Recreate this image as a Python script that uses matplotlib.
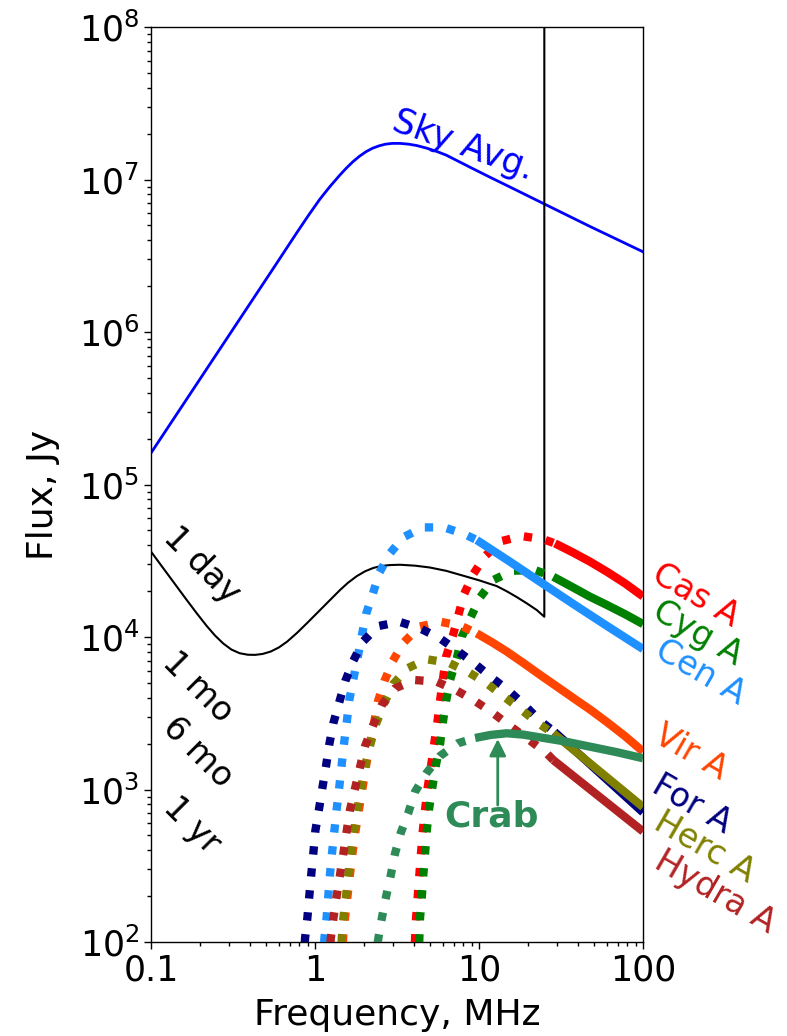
import numpy as np
import matplotlib
matplotlib.use("Agg")
import matplotlib.pyplot as plt

# ---- data (log10 of frequency in MHz, log10 of flux in Jy) ----
sky_logf = [-1.0, -0.254, -0.112, -0.040, 0.030, 0.090, 0.152, 0.19, 0.23, 0.27, 0.31, 0.35,
            0.39, 0.43, 0.47, 0.52, 0.57, 0.62, 0.68, 0.74, 0.80, 0.864, 0.95, 1.067, 1.20,
            1.392, 1.677, 2.0]
sky_logs = [5.207, 6.418, 6.650, 6.765, 6.872, 6.953, 7.030, 7.074, 7.116, 7.152, 7.182, 7.205,
            7.221, 7.232, 7.237, 7.237, 7.232, 7.223, 7.206, 7.185, 7.160, 7.125, 7.078, 7.015,
            6.945, 6.843, 6.692, 6.526]

day_logf = [-1.0, -0.93, -0.86, -0.79, -0.72, -0.66, -0.61, -0.56, -0.51, -0.46, -0.41,
            -0.366, -0.32, -0.27, -0.22, -0.17, -0.11, -0.05, 0.051, 0.152, 0.20, 0.254,
            0.305, 0.355, 0.405, 0.457, 0.518, 0.61, 0.70, 0.80, 0.904, 1.0, 1.108, 1.169,
            1.23, 1.291, 1.352, 1.398, 1.398]
day_logs = [4.560, 4.458, 4.356, 4.254, 4.154, 4.072, 4.010, 3.958, 3.918, 3.894, 3.884,
            3.883, 3.889, 3.905, 3.932, 3.970, 4.027, 4.090, 4.199, 4.308, 4.355, 4.399,
            4.431, 4.453, 4.466, 4.472, 4.474, 4.468, 4.456, 4.434, 4.402, 4.372, 4.334, 4.300,
            4.262, 4.221, 4.177, 4.133, 9.0]

source_names = ["Cas A", "Cyg A", "Cen A", "Vir A", "For A", "Herc A", "Hydra A", "Crab"]

cas_dot_logf = [0.609, 0.610, 0.616, 0.626, 0.636, 0.646, 0.657, 0.671, 0.687, 0.707, 0.726,
                0.746, 0.762, 0.780, 0.799, 0.840, 0.874, 0.909, 0.965, 1.037, 1.132, 1.260,
                1.392, 1.463]
cas_dot_logs = [1.997, 2.024, 2.155, 2.297, 2.439, 2.582, 2.728, 2.870, 3.014, 3.154, 3.296,
                3.441, 3.580, 3.725, 3.871, 4.007, 4.144, 4.282, 4.413, 4.531, 4.628, 4.662,
                4.641, 4.614]
cas_logf = [1.463, 1.570, 1.677, 1.780, 1.890, 2.0]
cas_logs = [4.614, 4.556, 4.494, 4.428, 4.352, 4.266]

cyg_dot_logf = [0.635, 0.636, 0.640, 0.651, 0.660, 0.671, 0.681, 0.695, 0.715, 0.736, 0.762,
                0.779, 0.799, 0.823, 0.864, 0.895, 0.949, 1.006, 1.087, 1.205, 1.341, 1.453]
cyg_dot_logs = [1.997, 2.024, 2.155, 2.297, 2.439, 2.582, 2.728, 2.870, 3.014, 3.154, 3.296,
                3.439, 3.580, 3.718, 3.860, 4.002, 4.129, 4.260, 4.374, 4.435, 4.439, 4.395]
cyg_logf = [1.453, 1.565, 1.677, 1.780, 1.890, 2.0]
cyg_logs = [4.395, 4.330, 4.264, 4.210, 4.150, 4.085]

cen_dot_logf = [0.056, 0.057, 0.071, 0.081, 0.091, 0.104, 0.118, 0.132, 0.148, 0.163, 0.177,
                0.193, 0.209, 0.234, 0.260, 0.285, 0.311, 0.352, 0.392, 0.457, 0.538, 0.657,
                0.787, 0.910, 0.986]
cen_dot_logs = [1.997, 2.024, 2.166, 2.304, 2.444, 2.588, 2.730, 2.872, 3.018, 3.167, 3.303,
                3.438, 3.587, 3.725, 3.867, 4.009, 4.151, 4.282, 4.422, 4.549, 4.654, 4.719,
                4.719, 4.675, 4.636]
cen_logf = [0.986, 1.180, 1.372, 1.580, 1.790, 2.0]
cen_logs = [4.636, 4.500, 4.362, 4.213, 4.066, 3.921]

vir_dot_logf = [0.170, 0.171, 0.183, 0.198, 0.213, 0.229, 0.247, 0.268, 0.290, 0.311, 0.332,
                0.360, 0.384, 0.423, 0.474, 0.540, 0.636, 0.765, 0.893, 0.986]
vir_dot_logs = [1.997, 2.024, 2.162, 2.302, 2.444, 2.588, 2.730, 2.870, 3.012, 3.154, 3.292,
                3.436, 3.580, 3.711, 3.843, 3.964, 4.068, 4.100, 4.072, 4.024]
vir_logf = [0.986, 1.080, 1.169, 1.270, 1.372, 1.475, 1.575, 1.680, 1.779, 1.890, 2.0]
vir_logs = [4.024, 3.965, 3.905, 3.830, 3.752, 3.675, 3.600, 3.522, 3.443, 3.350, 3.249]

for_dot_logf = [-0.062, -0.061, -0.047, -0.035, -0.023, -0.010, 0.002, 0.024, 0.045, 0.067,
                0.087, 0.112, 0.148, 0.185, 0.234, 0.291, 0.386, 0.514, 0.640, 0.762, 0.868,
                0.976, 1.077, 1.183, 1.280, 1.372, 1.460]
for_dot_logs = [1.997, 2.024, 2.155, 2.302, 2.444, 2.588, 2.730, 2.870, 3.012, 3.154,
                3.296, 3.436, 3.574, 3.713, 3.845, 3.969, 4.072, 4.100, 4.057, 3.991, 3.910,
                3.823, 3.734, 3.646, 3.550, 3.451, 3.378]
for_logf = [1.460, 2.0]
for_logs = [3.378, 2.850]

herc_dot_logf = [0.162, 0.163, 0.173, 0.189, 0.203, 0.218, 0.238, 0.258, 0.280, 0.305, 0.335,
                 0.372, 0.421, 0.477, 0.563, 0.681, 0.813, 0.935, 1.047, 1.152, 1.260, 1.366,
                 1.453]
herc_dot_logs = [1.997, 2.024, 2.162, 2.302, 2.444, 2.588, 2.730, 2.870, 3.012, 3.154, 3.287,
                 3.430, 3.565, 3.692, 3.795, 3.854, 3.832, 3.770, 3.696, 3.609, 3.521, 3.430,
                 3.369]
herc_logf = [1.453, 2.0]
herc_logs = [3.369, 2.885]

hydra_dot_logf = [0.094, 0.096, 0.112, 0.132, 0.152, 0.173, 0.193, 0.213, 0.244, 0.274, 0.305,
                  0.352, 0.407, 0.488, 0.610, 0.742, 0.864, 0.976, 1.087, 1.195, 1.301, 1.409,
                  1.453]
hydra_dot_logs = [1.997, 2.024, 2.155, 2.302, 2.439, 2.582, 2.728, 2.866, 3.008, 3.146, 3.285,
                  3.416, 3.554, 3.664, 3.718, 3.707, 3.649, 3.580, 3.500, 3.412, 3.329, 3.241,
                  3.193]
hydra_logf = [1.453, 2.0]
hydra_logs = [3.193, 2.725]

crab_dot_logf = [0.382, 0.386, 0.407, 0.433, 0.462, 0.488, 0.523, 0.569, 0.610, 0.681, 0.762,
                 0.870, 0.976]
crab_dot_logs = [1.997, 2.024, 2.155, 2.297, 2.439, 2.582, 2.717, 2.848, 2.986, 3.110, 3.220,
                 3.303, 3.338]
crab_logf = [0.976, 1.070, 1.169, 1.270, 1.372, 1.520, 1.677, 1.840, 2.0]
crab_logs = [3.338, 3.358, 3.369, 3.360, 3.342, 3.316, 3.281, 3.245, 3.205]

x_ticks = [0.1, 1, 10, 100]
x_ticklabels = ["0.1", "1", "10", "100"]
time_labels = ["1 day", "1 mo", "6 mo", "1 yr"]

sources = [
    (cas_dot_logf, cas_dot_logs, cas_logf, cas_logs, "red"),
    (cyg_dot_logf, cyg_dot_logs, cyg_logf, cyg_logs, "green"),
    (cen_dot_logf, cen_dot_logs, cen_logf, cen_logs, "dodgerblue"),
    (vir_dot_logf, vir_dot_logs, vir_logf, vir_logs, "orangered"),
    (for_dot_logf, for_dot_logs, for_logf, for_logs, "navy"),
    (herc_dot_logf, herc_dot_logs, herc_logf, herc_logs, "olive"),
    (hydra_dot_logf, hydra_dot_logs, hydra_logf, hydra_logs, "firebrick"),
    (crab_dot_logf, crab_dot_logs, crab_logf, crab_logs, "seagreen"),
]


def p10(v):
    return np.power(10.0, np.asarray(v, dtype=float))


fig = plt.figure(figsize=(7.87, 10.36), dpi=100)
ax = fig.add_axes([0.1919, 0.0907, 0.6252, 0.8832])

ax.plot(p10(sky_logf), p10(sky_logs), color="blue", lw=2.0, zorder=2)
ax.plot(p10(day_logf), p10(day_logs), color="black", lw=1.5, zorder=2)

for dlf, dls, slf, sls, col in sources:
    ax.plot(p10(dlf), p10(dls), color=col, lw=6, ls=":", zorder=3)
    ax.plot(p10(slf), p10(sls), color=col, lw=6, solid_capstyle="butt", zorder=3)

ax.set_xscale("log")
ax.set_yscale("log")
ax.set_xlim(0.1, 100)
ax.set_ylim(1e2, 1e8)
ax.set_xticks(x_ticks)
ax.set_xticklabels(x_ticklabels)
ax.tick_params(which="major", labelsize=25, length=5, width=1)
ax.tick_params(which="minor", length=3, width=1)
for sp in ax.spines.values():
    sp.set_linewidth(1.0)

ax.set_xlabel("Frequency, MHz", fontsize=26)
ax.set_ylabel("Flux, Jy", fontsize=26)
ax.xaxis.set_label_coords(0.5, -0.0615)
ax.yaxis.set_label_coords(-0.185, 0.489)

# curve annotations
ax.text(10**0.902, 10**7.226, "Sky Avg.", color="blue", fontsize=25, rotation=-20,
        ha="center", va="center", rotation_mode="anchor")

time_pos = [(-0.689, 4.472), (-0.713, 3.672), (-0.713, 3.246), (-0.750, 2.767)]
for lbl, (lx, ly) in zip(time_labels, time_pos):
    ax.text(10**lx, 10**ly, lbl, color="black", fontsize=24, rotation=-45,
            ha="center", va="center", rotation_mode="anchor")

label_pos = [(2.323, 4.275), (2.335, 4.026), (2.348, 3.770), (2.293, 3.246),
             (2.299, 2.905), (2.372, 2.623), (2.439, 2.328)]
for name, (lx, ly), src in zip(source_names[:7], label_pos, sources[:7]):
    ax.text(10**lx, 10**ly, name, color=src[4], fontsize=24, rotation=-30,
            ha="center", va="center", rotation_mode="anchor", clip_on=False)

ax.text(10**1.073, 10**2.826, source_names[7], color="seagreen", fontsize=26,
        fontweight="bold", ha="center", va="center")
ax.annotate("", xy=(10**1.114, 10**3.331), xytext=(10**1.114, 10**2.898),
            arrowprops=dict(arrowstyle="-|>", color="seagreen", lw=2,
                            mutation_scale=25, shrinkA=0, shrinkB=0))

fig.savefig("out.png", dpi=100)
